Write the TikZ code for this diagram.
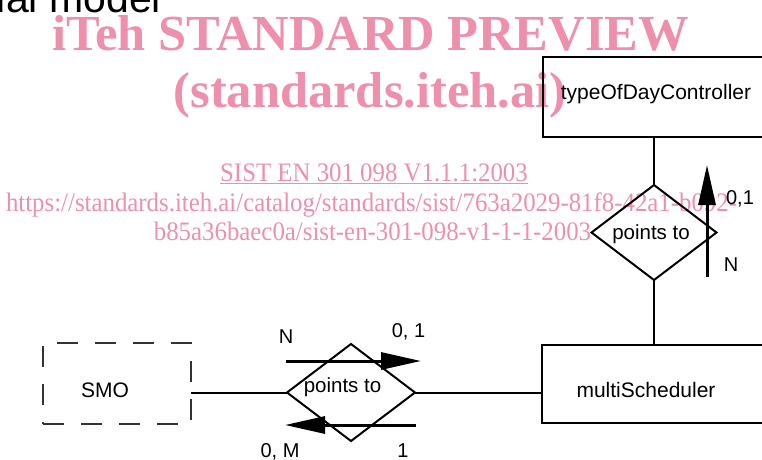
\documentclass[tikz,border=0pt]{standalone}
\usepackage{fontspec}
\setmainfont{Liberation Sans}
\newfontfamily\wmfont{Liberation Serif}
\usetikzlibrary{shapes.geometric,arrows.meta}
\definecolor{wmpink}{RGB}{238,143,171}
\begin{document}
\begin{tikzpicture}[x=1pt,y=-1pt,
  every node/.style={inner sep=0pt, outer sep=0pt},
  entity/.style={draw, line width=2pt, font=\fontsize{21}{24}\selectfont},
  weakentity/.style={draw=black!80, line width=1.3pt, dash pattern=on 21pt off 17pt, font=\fontsize{21}{24}\selectfont},
  rel/.style={draw, diamond, line width=2pt, font=\fontsize{20.5}{24}\selectfont},
  conn/.style={line width=2pt},
  card/.style={anchor=base, font=\fontsize{20}{24}\selectfont},
  flow/.style={line width=3pt, -{Triangle[length=40pt,width=17pt]}},
  wmtitle/.style={anchor=base, text=wmpink, font=\wmfont\bfseries\fontsize{50.5}{56}\selectfont},
  wmline/.style={anchor=base, text=wmpink, font=\wmfont\fontsize{26.7}{30}\selectfont}
]
\useasboundingbox (0,0) rectangle (762,459);
\clip (0,0) rectangle (762,459);

% cropped heading
\node[anchor=base west, font=\fontsize{41}{46}\selectfont] (head) at (-3,12.5) {ial model};

% watermark
\node[wmtitle] (w1) at (370.5,50) {iTeh STANDARD PREVIEW};
\node[wmtitle] (w2) at (370,107) {(standards.iteh.ai)};
\node[wmline] (w3) at (374,181) {\scalebox{0.93}[1]{\underline{SIST EN 301 098 V1.1.1:2003}}};
\node[wmline] (w4) at (371.5,211) {\scalebox{0.93}[1]{https://standards.iteh.ai/catalog/standards/sist/763a2029-81f8-42a1-b092-}};
\node[wmline] (w5) at (372.5,240) {\scalebox{0.93}[1]{b85a36baec0a/sist-en-301-098-v1-1-1-2003}};

% entities
\node[entity, minimum width=240pt, minimum height=80pt] (tdc) at (663,97)
  {\raisebox{-2pt}[0pt][0pt]{\makebox[0pt]{typeOfDayController\hspace{14pt}}}};
\node[entity, minimum width=240pt, minimum height=78pt] (ms) at (662,384)
  {\raisebox{-13pt}[0pt][0pt]{\makebox[0pt]{multiScheduler\hspace{32pt}}}};
\node[weakentity, minimum width=148pt, minimum height=81pt] (smo) at (117,383.5)
  {\raisebox{-13.5pt}[0pt][0pt]{\makebox[0pt]{SMO\hspace{24pt}}}};

% relationships
\node[rel, minimum width=125pt, minimum height=95pt] (d1) at (654,232.5)
  {\raisebox{-7pt}[0pt][0pt]{\makebox[0pt]{points to\hspace{6pt}}}};
\node[rel, minimum width=128pt, minimum height=97pt] (d2) at (351,392.5)
  {\raisebox{0pt}[0pt][0pt]{\makebox[0pt]{points to\hspace{17pt}}}};

% connectors
\draw[conn] (d1.north) -- (d1.north |- tdc.south);
\draw[conn] (d1.south) -- (d1.south |- ms.north);
\draw[conn] (smo.east |- d2.west) -- (d2.west);
\draw[conn] (d2.east) -- (ms.west |- d2.east);

% direction arrows
\coordinate (a1s) at (707,277);
\coordinate (a1e) at (707,165);
\draw[flow] (a1s) -- (a1e);
\coordinate (a2s) at (286,361);
\coordinate (a2e) at (421,361);
\draw[flow] (a2s) -- (a2e);
\coordinate (a3s) at (416,425);
\coordinate (a3e) at (285,425);
\draw[flow] (a3s) -- (a3e);

% cardinalities
\node[card] (c1) at (740,204) {0,1};
\node[card] (c2) at (731,271) {N};
\node[card] (c3) at (286,343) {N};
\node[card] (c4) at (408.5,337) {0, 1};
\node[card] (c5) at (280,457) {0, M};
\node[card] (c6) at (403,457) {1};
\end{tikzpicture}
\end{document}
